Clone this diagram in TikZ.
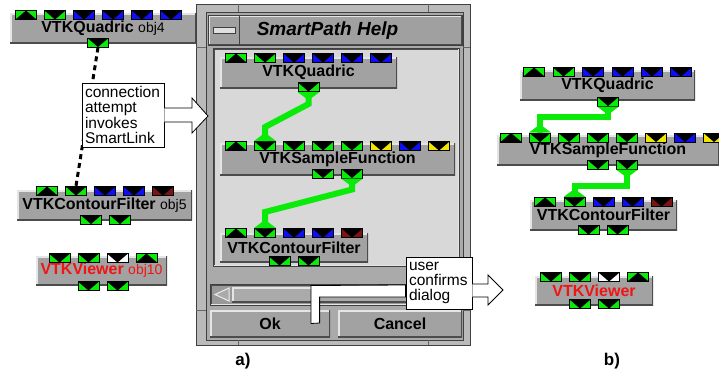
\documentclass[tikz,border=0pt]{standalone}
\usepackage{fontspec}
\setmainfont{Liberation Sans}

\definecolor{portgreen}{RGB}{10,235,10}
\definecolor{portblue}{RGB}{15,15,245}
\definecolor{portyellow}{RGB}{240,230,0}
\definecolor{portred}{RGB}{125,20,20}
\definecolor{modgray}{RGB}{162,162,162}
\definecolor{panelgray}{RGB}{216,216,216}
\definecolor{framegray}{RGB}{186,186,186}
\definecolor{innergray}{RGB}{170,170,170}
\definecolor{titlegray}{RGB}{160,160,160}
\definecolor{viewred}{RGB}{240,20,20}

\newcommand{\modulefont}{\fontsize{16}{16}\selectfont\bfseries}
\newcommand{\objlabelfont}{\fontsize{14}{14}\selectfont\mdseries}
\newcommand{\notetextfont}{\fontsize{15.5}{15.4}\selectfont}
\newcommand{\helptitlefont}{\fontsize{19}{19}\selectfont\bfseries\itshape}
\newcommand{\subfigfont}{\fontsize{17}{17}\selectfont\bfseries}

\begin{document}
\begin{tikzpicture}[x=1pt, y=-1pt,
    raised/.style ={path picture={
      \draw[white!80!gray, line width=3pt] (path picture bounding box.south west)
        -- (path picture bounding box.north west) -- (path picture bounding box.north east);
      \draw[black!70, line width=3pt] (path picture bounding box.south west)
        -- (path picture bounding box.south east) -- (path picture bounding box.north east);}},
    sunken/.style ={path picture={
      \draw[black!70, line width=3pt] (path picture bounding box.south west)
        -- (path picture bounding box.north west) -- (path picture bounding box.north east);
      \draw[white!80!gray, line width=3pt] (path picture bounding box.south west)
        -- (path picture bounding box.south east) -- (path picture bounding box.north east);}},
    block_module/.style ={rectangle, fill=modgray, raised, inner sep=0pt,
      minimum height=30pt, font=\modulefont},
    port/.style ={rectangle, draw=black, line width=1pt, inner sep=0pt,
      minimum width=21pt, minimum height=9pt},
    port_in/.style ={port, fill=#1, path picture={\fill[black] (path picture bounding box.south west)
      -- (path picture bounding box.north) -- (path picture bounding box.south east) -- cycle;}},
    port_out/.style ={port, fill=#1, path picture={\fill[black] (path picture bounding box.north west)
      -- (path picture bounding box.south) -- (path picture bounding box.north east) -- cycle;}},
    window/.style ={rectangle, draw=black!75, line width=1pt, inner sep=0pt},
    button/.style ={rectangle, fill=modgray, raised, inner sep=0pt, font=\modulefont},
    note/.style ={rectangle, draw=black, line width=0.8pt, fill=white, inner xsep=3pt,
      inner ysep=2pt, align=left, font=\notetextfont},
    block_arrow/.style ={draw=black, fill=white, line width=0.8pt, line join=miter},
    link/.style ={draw=portgreen, line width=6pt},
    attempt/.style ={draw=black, line width=3pt, dash pattern=on 5pt off 4pt},
    subfig/.style ={font=\subfigfont, inner sep=0pt}]
  \useasboundingbox (0,0) rectangle (719,375);

  % the SmartPath Help dialog
  \node [window, fill=framegray, minimum width=274pt, minimum height=341pt] (dialog) at (333,174.5) {};
  \node [window, fill=innergray, minimum width=257pt, minimum height=328pt] (dialog_inner) at (334.5,176) {};
  \draw [black!60, line width=1pt] (238,4) -- (238,12) (428,4) -- (428,12) (238,340) -- (238,345)
    (428,340) -- (428,345) (196,47) -- (206,47) (196,310) -- (206,310) (463,47) -- (470,47) (463,310) -- (470,310);
  \node [window, fill=titlegray, raised, minimum width=254pt, minimum height=30pt] (title_bar) at (335,30) {};
  \draw [black!75, line width=1pt] ([xshift=32pt]title_bar.north west) -- ([xshift=32pt]title_bar.south west);
  \node [window, fill=white!75!gray, minimum width=22pt, minimum height=6pt] (min_button) at (224,30) {};
  \node [font=\helptitlefont, inner sep=0pt] (title_text) at (327.5,31) {SmartPath Help};
  \node [window, fill=panelgray, sunken, minimum width=246pt, minimum height=218pt] (panel) at (336,157) {};
  \node [window, fill=innergray!90!black, sunken, minimum width=250pt, minimum height=21pt] (scroll_bar) at (335,294.5) {};
  \node [rectangle, fill=innergray, raised, inner sep=0pt, minimum width=224pt, minimum height=15pt] (scroll_thumb) at (344,294.5) {};
  \draw [white!85!gray, fill=innergray, line width=1pt] (229,288) -- (215,294.5) -- (229,301) -- cycle;
  \node [button, minimum width=120pt, minimum height=27pt] (btn_ok) at (270,323.5) {Ok};
  \node [button, minimum width=124pt, minimum height=27pt] (btn_cancel) at (400,323.5) {Cancel};

  % left column: modules before the connection
  \node [block_module, minimum width=186pt] (quadric_l) at (103,28) {VTKQuadric {\objlabelfont obj4}};
  \node [port_in=portgreen] (quadric_l_p1) at (26,15) {}; \node [port_out=portgreen] (quadric_l_p2) at (55,15) {};
  \node [port_out=portblue] (quadric_l_p3) at (84,15) {}; \node [port_out=portblue] (quadric_l_p4) at (113,15) {};
  \node [port_out=portblue] (quadric_l_p5) at (142,15) {}; \node [port_out=portblue] (quadric_l_p6) at (171,15) {};
  \node [port_out=portgreen] (quadric_l_out) at (98,42.5) {};

  \node [block_module, minimum width=175pt] (contour_l) at (104.5,205) {VTKContourFilter {\objlabelfont obj5}};
  \node [port_in=portgreen] (contour_l_p1) at (47,191) {}; \node [port_out=portgreen] (contour_l_p2) at (76,191) {};
  \node [port_out=portblue] (contour_l_p3) at (105,191) {}; \node [port_out=portblue] (contour_l_p4) at (134,191) {};
  \node [port_out=portred] (contour_l_p5) at (163,191) {};
  \node [port_out=portgreen] (contour_l_out1) at (91,219.5) {}; \node [port_out=portgreen] (contour_l_out2) at (120,219.5) {};

  \node [block_module, minimum width=131pt, minimum height=29pt, text=viewred] (viewer_l) at (101.5,270.5) {VTKViewer {\objlabelfont obj10}};
  \node [port_out=portgreen] (viewer_l_p1) at (59.5,258) {}; \node [port_out=portgreen] (viewer_l_p2) at (88.5,258) {};
  \node [port_out=white] (viewer_l_p3) at (117.5,258) {}; \node [port_in=portgreen] (viewer_l_p4) at (146.5,258) {};
  \node [port_out=portgreen] (viewer_l_out1) at (88.5,286) {}; \node [port_out=portgreen] (viewer_l_out2) at (117.5,286) {};

  % a) modules inside the dialog
  \node [block_module, minimum width=177pt, minimum height=31pt] (quadric_a) at (308.5,72.5) {VTKQuadric};
  \node [port_in=portgreen] (quadric_a_p1) at (236,58) {}; \node [port_out=portgreen] (quadric_a_p2) at (265,58) {};
  \node [port_out=portblue] (quadric_a_p3) at (294,58) {}; \node [port_out=portblue] (quadric_a_p4) at (323,58) {};
  \node [port_out=portblue] (quadric_a_p5) at (352,58) {}; \node [port_out=portblue] (quadric_a_p6) at (381,58) {};
  \node [port_out=portgreen] (quadric_a_out) at (308.5,87) {};

  \node [block_module, minimum width=235pt, minimum height=32pt] (sample_a) at (337.5,159) {VTKSampleFunction};
  \node [port_in=portgreen] (sample_a_p1) at (236,146) {}; \node [port_out=portgreen] (sample_a_p2) at (265,146) {};
  \node [port_out=portgreen] (sample_a_p3) at (294,146) {}; \node [port_out=portgreen] (sample_a_p4) at (323,146) {};
  \node [port_out=portgreen] (sample_a_p5) at (352,146) {}; \node [port_out=portyellow] (sample_a_p6) at (381,146) {};
  \node [port_out=portblue] (sample_a_p7) at (410,146) {}; \node [port_out=portyellow] (sample_a_p8) at (439,146) {};
  \node [port_out=portgreen] (sample_a_out1) at (323,173.5) {}; \node [port_out=portgreen] (sample_a_out2) at (352,173.5) {};

  \node [block_module, minimum width=148pt, minimum height=29pt] (contour_a) at (294,247.5) {VTKContourFilter};
  \node [port_in=portgreen] (contour_a_p1) at (236,233) {}; \node [port_out=portgreen] (contour_a_p2) at (265,233) {};
  \node [port_out=portblue] (contour_a_p3) at (294,233) {}; \node [port_out=portblue] (contour_a_p4) at (323,233) {};
  \node [port_out=portred] (contour_a_p5) at (352,233) {};
  \node [port_out=portgreen] (contour_a_out1) at (279.5,261) {}; \node [port_out=portgreen] (contour_a_out2) at (308.5,261) {};

  % b) the resulting network
  \node [block_module, minimum width=175pt] (quadric_b) at (607.5,85) {VTKQuadric};
  \node [port_in=portgreen] (quadric_b_p1) at (534,72) {}; \node [port_out=portgreen] (quadric_b_p2) at (563.5,72) {};
  \node [port_out=portblue] (quadric_b_p3) at (593,72) {}; \node [port_out=portblue] (quadric_b_p4) at (622.5,72) {};
  \node [port_out=portblue] (quadric_b_p5) at (652,72) {}; \node [port_out=portblue] (quadric_b_p6) at (681,72) {};
  \node [port_out=portgreen] (quadric_b_out) at (608,101.5) {};

  \node [block_module, minimum width=222pt] (sample_b) at (608,150) {VTKSampleFunction};
  \node [port_in=portgreen] (sample_b_p1) at (511,137.5) {}; \node [port_out=portgreen] (sample_b_p2) at (540,137.5) {};
  \node [port_out=portgreen] (sample_b_p3) at (569,137.5) {}; \node [port_out=portgreen] (sample_b_p4) at (598,137.5) {};
  \node [port_out=portgreen] (sample_b_p5) at (627,137.5) {}; \node [port_out=portyellow] (sample_b_p6) at (656,137.5) {};
  \node [port_out=portblue] (sample_b_p7) at (685,137.5) {}; \node [port_out=portyellow] (sample_b_p8) at (714,137.5) {};
  \node [port_out=portgreen] (sample_b_out1) at (598,164.5) {}; \node [port_out=portgreen] (sample_b_out2) at (627,164.5) {};

  \node [block_module, minimum width=147pt] (contour_b) at (603.5,215) {VTKContourFilter};
  \node [port_in=portgreen] (contour_b_p1) at (545,202) {}; \node [port_out=portgreen] (contour_b_p2) at (574.5,202) {};
  \node [port_out=portblue] (contour_b_p3) at (603.5,202) {}; \node [port_out=portblue] (contour_b_p4) at (632.5,202) {};
  \node [port_out=portred] (contour_b_p5) at (661.5,202) {};
  \node [port_out=portgreen] (contour_b_out1) at (588.5,230) {}; \node [port_out=portgreen] (contour_b_out2) at (617.5,230) {};

  \node [block_module, minimum width=118pt, minimum height=29pt, text=viewred] (viewer_b) at (594,290.5) {VTKViewer};
  \node [port_out=portgreen] (viewer_b_p1) at (551,277) {}; \node [port_out=portgreen] (viewer_b_p2) at (580,277) {};
  \node [port_out=white] (viewer_b_p3) at (609,277) {}; \node [port_in=portgreen] (viewer_b_p4) at (638,277) {};
  \node [port_out=portgreen] (viewer_b_out1) at (580,304) {}; \node [port_out=portgreen] (viewer_b_out2) at (609,304) {};

  % green links with their forks
  \draw [link] (quadric_a_out.south) -- ++(0,12) -- ([yshift=14pt]sample_a_p2.north) -- (sample_a_p2.north);
  \draw [link] (sample_a_out2.south) -- ++(0,11) -- ([yshift=16pt]contour_a_p2.north) -- (contour_a_p2.north);
  \draw [link] (quadric_b_out.south) -- ++(0,10) -| (sample_b_p2.north);
  \draw [link] (sample_b_out2.south) -- ++(0,16) -| (contour_b_p2.north);
  \fill [portgreen] (quadric_a_out.south west) -- (quadric_a_out.south east) -- ([shift={(3,6)}]quadric_a_out.south) -- ([shift={(-3,6)}]quadric_a_out.south) -- cycle;
  \fill [portgreen] (sample_a_out2.south west) -- (sample_a_out2.south east) -- ([shift={(3,6)}]sample_a_out2.south) -- ([shift={(-3,6)}]sample_a_out2.south) -- cycle;
  \fill [portgreen] (quadric_b_out.south west) -- (quadric_b_out.south east) -- ([shift={(3,6)}]quadric_b_out.south) -- ([shift={(-3,6)}]quadric_b_out.south) -- cycle;
  \fill [portgreen] (sample_b_out2.south west) -- (sample_b_out2.south east) -- ([shift={(3,6)}]sample_b_out2.south) -- ([shift={(-3,6)}]sample_b_out2.south) -- cycle;
  \fill [portgreen] (sample_a_p2.north west) -- (sample_a_p2.north east) -- ([shift={(3,-6)}]sample_a_p2.north) -- ([shift={(-3,-6)}]sample_a_p2.north) -- cycle;
  \fill [portgreen] (contour_a_p2.north west) -- (contour_a_p2.north east) -- ([shift={(3,-6)}]contour_a_p2.north) -- ([shift={(-3,-6)}]contour_a_p2.north) -- cycle;
  \fill [portgreen] (sample_b_p2.north west) -- (sample_b_p2.north east) -- ([shift={(3,-6)}]sample_b_p2.north) -- ([shift={(-3,-6)}]sample_b_p2.north) -- cycle;
  \fill [portgreen] (contour_b_p2.north west) -- (contour_b_p2.north east) -- ([shift={(3,-6)}]contour_b_p2.north) -- ([shift={(-3,-6)}]contour_b_p2.north) -- cycle;

  % the attempted connection and the callouts
  \draw [attempt] (quadric_l_out.south) -- (contour_l_p2.north);
  \node [note, minimum width=82pt, minimum height=64pt, text width=76pt] (note_connect) at (123,115)
    {connection\\attempt\\invokes\\SmartLink};
  \node [note, minimum width=66pt, minimum height=52pt, text width=60pt] (note_confirm) at (439,283)
    {user\\confirms\\dialog};
  \coordinate (help_tip) at (208,116);
  \coordinate (result_tip) at (503,290);
  \filldraw [block_arrow] ([yshift=7pt]note_connect.east) -- ([shift={(-16,-8)}]help_tip)
    -- ([shift={(-16,-18)}]help_tip) -- (help_tip) -- ([shift={(-16,17)}]help_tip)
    -- ([shift={(-16,6)}]help_tip) -- ([yshift=-7pt]note_connect.east);
  \filldraw [block_arrow] ([xshift=41pt]btn_ok.center) -- ++(0,-38) -- ([yshift=-2pt]note_confirm.west)
    -- ([yshift=-14pt]note_confirm.west) -- ++(-86,0) -- ++(0,26) -- cycle;
  \filldraw [block_arrow] ([yshift=-1pt]note_confirm.east) -- ([shift={(-15,-6)}]result_tip)
    -- ([shift={(-15,-15)}]result_tip) -- (result_tip) -- ([shift={(-15,15)}]result_tip)
    -- ([shift={(-15,7)}]result_tip) -- ([yshift=-14pt]note_confirm.east);

  \node [subfig] (label_a) at (243,361) {a)};
  \node [subfig] (label_b) at (612,361) {b)};
\end{tikzpicture}
\end{document}
